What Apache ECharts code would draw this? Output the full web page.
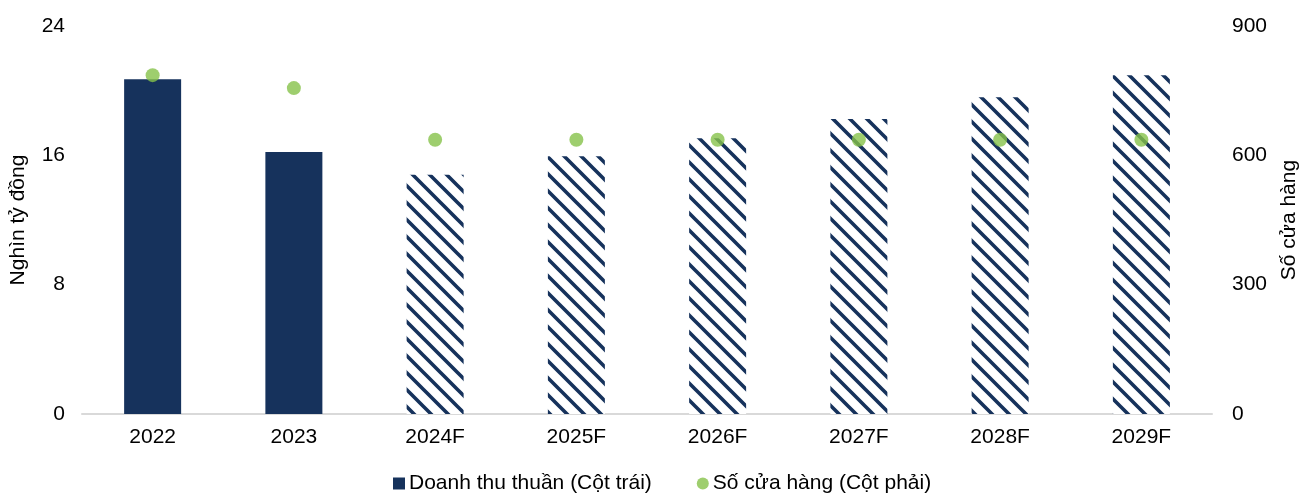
<!DOCTYPE html>
<html>
<head>
<meta charset="utf-8">
<script src="https://cdn.jsdelivr.net/npm/echarts@6/dist/echarts.min.js"></script>
<style>
  html, body { margin: 0; padding: 0; background: #fff; }
  #chart { width: 1300px; height: 499px; }
</style>
</head>
<body>
<div id="chart"></div>
<script>
// Revenue (left axis, trillion VND) and store count (right axis)
const years = ['2022', '2023', '2024F', '2025F', '2026F', '2027F', '2028F', '2029F'];
const revenue = [20.7, 16.2, 14.8, 15.95, 17.05, 18.25, 19.6, 20.95];
const stores = [786, 756, 636, 636, 636, 636, 636, 636];
const forecastFrom = 2; // index of the first forecast year
const leftTicks = [0, 8, 16, 24];
const rightTicks = [0, 300, 600, 900];

const NAVY = '#16325c';
const GREEN = '#86c24a';
const FONT = '"Liberation Sans", Arial, sans-serif';
const FS = 21;

// Diagonal hatch tile for the forecast bars
function hatchTile() {
  const s = 17;
  const c = document.createElement('canvas');
  c.width = s; c.height = s;
  const g = c.getContext('2d');
  g.fillStyle = '#fff';
  g.fillRect(0, 0, s, s);
  g.strokeStyle = NAVY;
  g.lineWidth = 3.6;
  g.beginPath();
  g.moveTo(-s, -s); g.lineTo(2 * s, 2 * s);
  g.moveTo(-s, 0); g.lineTo(s, 2 * s);
  g.moveTo(0, -s); g.lineTo(2 * s, s);
  g.stroke();
  return c;
}
const hatch = { image: hatchTile(), repeat: 'repeat' };

const chart = echarts.init(document.getElementById('chart'), null, { renderer: 'canvas' });

chart.setOption({
  animation: false,
  textStyle: { fontFamily: FONT },
  grid: { left: 82, right: 88, top: 26, bottom: 85, outerBoundsMode: 'none', containLabel: false },
  legend: {
    bottom: 0,
    left: 388,
    itemGap: 45,
    itemWidth: 12,
    itemHeight: 12,
    itemStyle: { borderWidth: 0 },
    textStyle: { fontSize: FS, color: '#000', fontFamily: FONT, padding: [0, 0, 0, -1] },
    data: [
      { name: 'Doanh thu thuần (Cột trái)', icon: 'rect', itemStyle: { color: NAVY } },
      { name: 'Số cửa hàng (Cột phải)', icon: 'circle', itemStyle: { color: GREEN } }
    ]
  },
  xAxis: {
    type: 'category',
    data: years,
    axisLine: { lineStyle: { color: '#d9d9d9', width: 2 } },
    axisTick: { show: false },
    axisLabel: { color: '#000', fontSize: FS, margin: 13, fontFamily: FONT }
  },
  yAxis: [
    {
      type: 'value',
      min: leftTicks[0], max: leftTicks[leftTicks.length - 1], interval: 8,
      name: 'Nghìn tỷ đồng',
      nameLocation: 'middle',
      nameGap: 53,
      nameRotate: 90,
      nameTextStyle: { color: '#000', fontSize: FS, fontFamily: FONT },
      axisLine: { show: false },
      axisTick: { show: false },
      splitLine: { show: false },
      axisLabel: { color: '#000', fontSize: FS, margin: 17, fontFamily: FONT }
    },
    {
      type: 'value',
      min: rightTicks[0], max: rightTicks[rightTicks.length - 1], interval: 300,
      name: 'Số cửa hàng',
      nameLocation: 'middle',
      nameGap: 67,
      nameRotate: 90,
      nameTextStyle: { color: '#000', fontSize: FS, fontFamily: FONT },
      axisLine: { show: false },
      axisTick: { show: false },
      splitLine: { show: false },
      axisLabel: { color: '#000', fontSize: FS, margin: 20, fontFamily: FONT }
    }
  ],
  series: [
    {
      name: 'Doanh thu thuần (Cột trái)',
      type: 'bar',
      yAxisIndex: 0,
      barWidth: 57,
      data: revenue.map((v, i) => ({
        value: v,
        itemStyle: { color: i >= forecastFrom ? hatch : NAVY }
      })),
      itemStyle: { color: NAVY }
    },
    {
      name: 'Số cửa hàng (Cột phải)',
      type: 'scatter',
      yAxisIndex: 1,
      symbol: 'circle',
      symbolSize: 14,
      itemStyle: { color: GREEN },
      z: 5,
      data: stores
    }
  ]
});
</script>
</body>
</html>
